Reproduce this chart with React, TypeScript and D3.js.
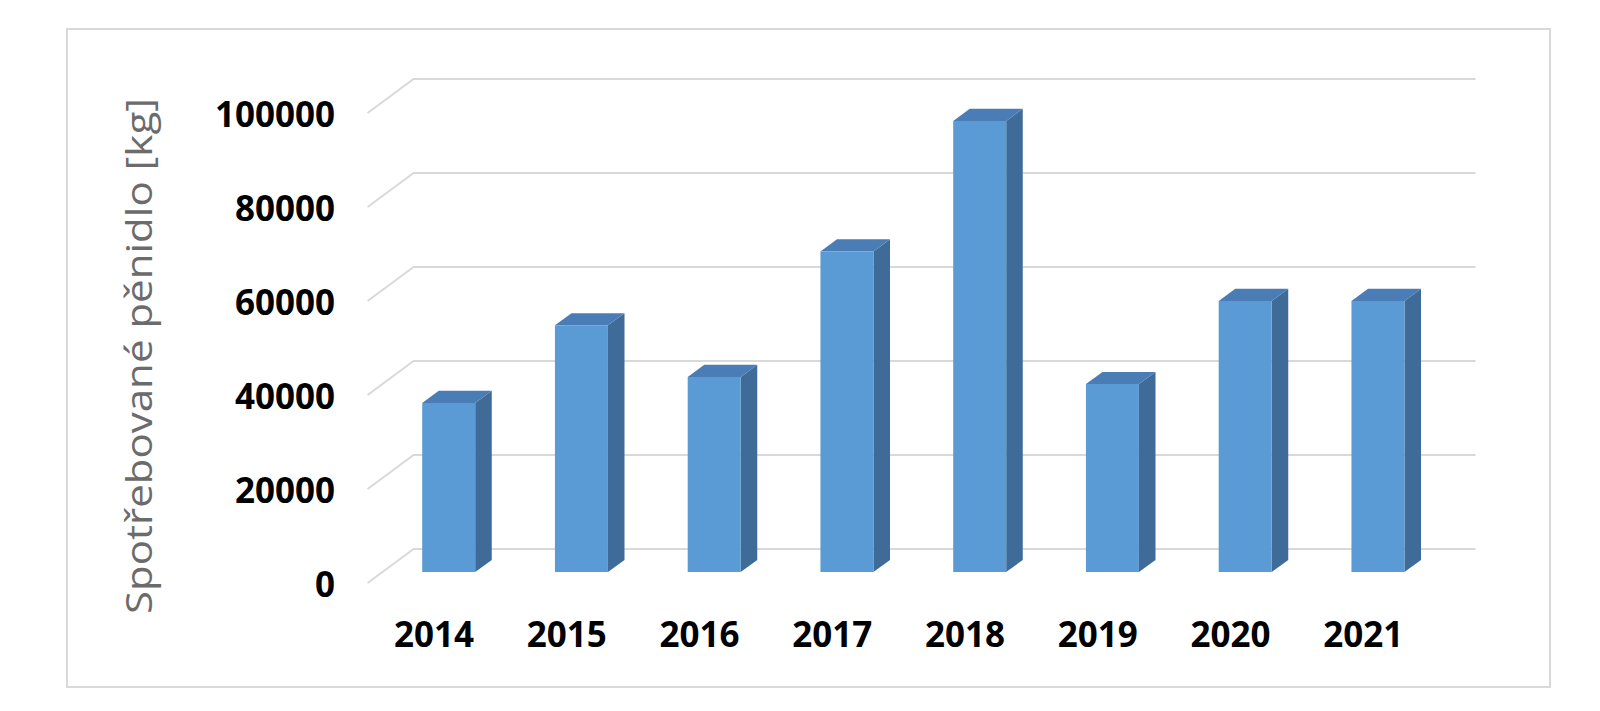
import React from "react";
import * as d3 from "d3";

const categories = ["2014", "2015", "2016", "2017", "2018", "2019", "2020", "2021"];
const values = [36000, 52500, 41500, 68200, 96000, 40000, 57700, 57700];
const yTicks = [0, 20000, 40000, 60000, 80000, 100000];
const yTitle = "Spotřebované pěnidlo [kg]";

const W = 1600;
const H = 711;
// floor depth vector (3D offset from front plane to back wall)
const DX = 46;
const DY = -34;
const F1 = 0.32; // bar front depth fraction
const F2 = 0.68; // bar back depth fraction
const BAR_W = 53;

export default function App() {
  const x = d3.scaleBand<string>().domain(categories).range([367.6, 1429.6]).padding(0);
  const y = d3.scaleLinear().domain([0, 100000]).range([583, 113]);
  const x0 = x.range()[0];
  const xBackRight = x.range()[1] + DX;

  const grid = yTicks.map((t) => {
    const yf = y(t);
    const p = d3.path();
    p.moveTo(x0, yf);
    p.lineTo(x0 + DX, yf + DY);
    p.lineTo(xBackRight, yf + DY);
    return { t, d: p.toString(), yf };
  });

  const ddx = (F2 - F1) * DX;
  const ddy = (F2 - F1) * DY;

  const bars = categories.map((c, i) => {
    const cx = (x(c) as number) + x.bandwidth() / 2;
    const left = cx - BAR_W / 2 + F1 * DX;
    const right = left + BAR_W;
    const top = y(values[i]) + F1 * DY;
    const bottom = y(0) + F1 * DY;
    const front = `M${left},${top}L${right},${top}L${right},${bottom}L${left},${bottom}Z`;
    const side = `M${right},${top}L${right + ddx},${top + ddy}L${right + ddx},${bottom + ddy}L${right},${bottom}Z`;
    const topFace = `M${left},${top}L${left + ddx},${top + ddy}L${right + ddx},${top + ddy}L${right},${top}Z`;
    return { c, front, side, topFace };
  });

  return (
    <div style={{ position: "absolute", left: 0, top: 0 }}>
      <svg width={W} height={H} style={{ display: "block", background: "#fff" }}>
        <rect x={67} y={29} width={1483} height={658} fill="#fff" stroke="#d9d9d9" strokeWidth={2} />
        {grid.map((g) => (
          <path key={g.t} d={g.d} fill="none" stroke="#d9d9d9" strokeWidth={2} />
        ))}
        {bars.map((b) => (
          <g key={b.c}>
            <path d={b.side} fill="#3f6b98" />
            <path d={b.topFace} fill="#4a7db6" />
            <path d={b.front} fill="#5b9bd5" />
          </g>
        ))}
        {grid.map((g) => (
          <text
            key={"l" + g.t}
            x={335}
            y={g.yf}
            textAnchor="end"
            dominantBaseline="central"
            fontFamily="'Open Sans', 'Noto Sans', sans-serif"
            fontWeight={700}
            fontSize={35}
            fill="#000"
          >
            {g.t}
          </text>
        ))}
        {categories.map((c) => (
          <text
            key={"x" + c}
            x={(x(c) as number) + x.bandwidth() / 2}
            y={647}
            textAnchor="middle"
            fontFamily="'Open Sans', 'Noto Sans', sans-serif"
            fontWeight={700}
            fontSize={35}
            fill="#000"
          >
            {c}
          </text>
        ))}
        <text
          transform="translate(138,356) rotate(-90)"
          textAnchor="middle"
          dominantBaseline="central"
          fontFamily="'Open Sans', 'Noto Sans', sans-serif"
          fontSize={36}
          fill="#6b6b6b"
          textLength={516}
          lengthAdjust="spacingAndGlyphs"
        >
          {yTitle}
        </text>
      </svg>
    </div>
  );
}
